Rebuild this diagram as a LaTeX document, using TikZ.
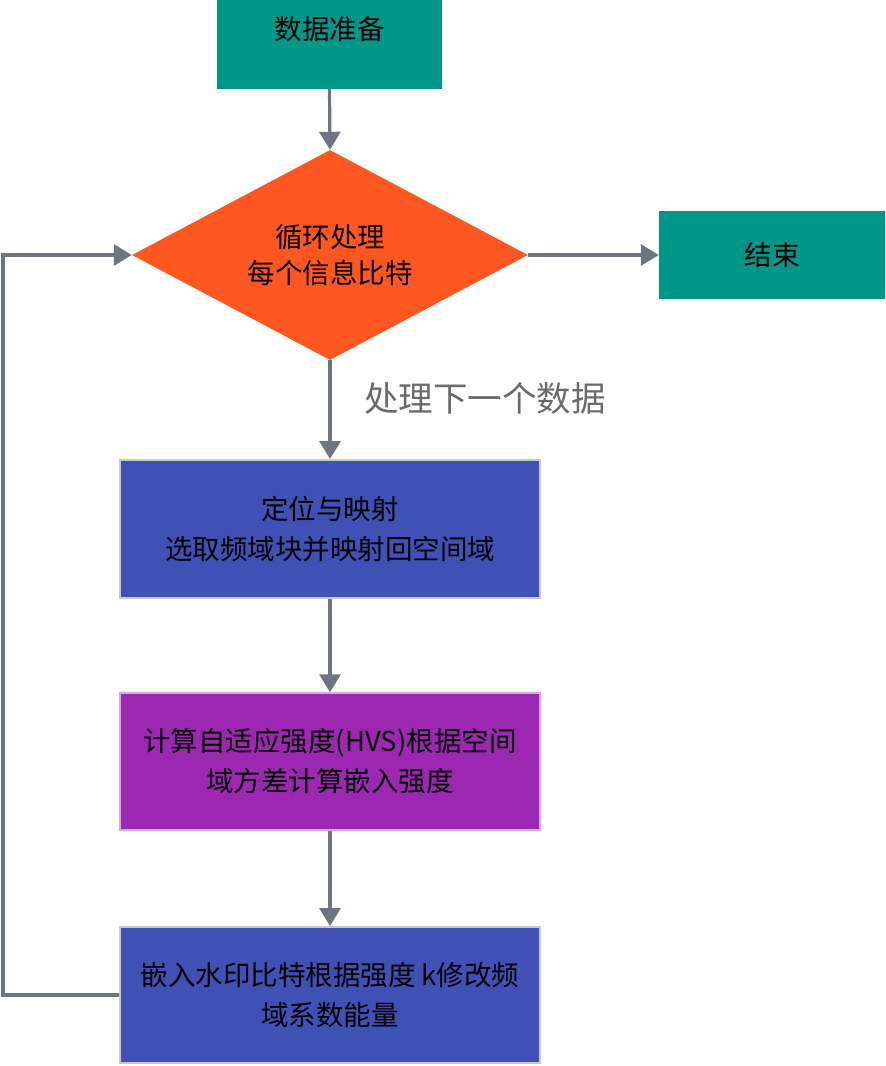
\documentclass[tikz,border=0pt]{standalone}
\usepackage{fontspec}
\setmainfont{Noto Sans CJK SC}
\usetikzlibrary{shapes.geometric,arrows.meta}
\definecolor{tealbox}{HTML}{009688}
\definecolor{orangedia}{HTML}{FF5722}
\definecolor{indigobox}{HTML}{3F51B5}
\definecolor{purplebox}{HTML}{9C27B0}
\definecolor{arrowgray}{HTML}{6E7580}
\definecolor{labelgray}{HTML}{6A6A6A}
\definecolor{bordergray}{HTML}{C8C8C8}
\definecolor{borderpink}{HTML}{D9A6E0}
\begin{document}
\begin{tikzpicture}[x=1pt,y=-1pt,
  box/.style={rectangle, align=center, inner sep=0pt, text=black,
    font=\fontsize{27.5}{40}\selectfont},
  arr/.style={draw=arrowgray, line width=3.2pt, -{Triangle[width=21pt,length=18pt]}}]
\useasboundingbox (0,0) rectangle (886,1066);
\clip (0,0) rectangle (886,1066);
\node[box, fill=tealbox, minimum width=225pt, minimum height=120pt] (start) at (329.5,29) {数据准备};
\node[diamond, aspect=1.886, fill=orangedia, minimum width=396pt, minimum height=210pt, inner sep=0pt,
  align=center, text=black, font=\fontsize{27.5}{36}\selectfont] (loop) at (330,255) {循环处理\\每个信息比特};
\node[box, fill=tealbox, minimum width=226pt, minimum height=88pt] (end) at (772,255) {结束};
\node[box, fill=indigobox, draw=bordergray, line width=2pt, minimum width=420pt, minimum height=138pt] (map) at (330,529) {定位与映射\\选取频域块并映射回空间域};
\node[box, fill=purplebox, draw=borderpink, line width=1.5pt, minimum width=420pt, minimum height=137pt] (hvs) at (330,761.5) {计算自适应强度(HVS)根据空间\\域方差计算嵌入强度};
\node[box, fill=indigobox, draw=bordergray, line width=2pt, minimum width=420pt, minimum height=136pt] (embed) at (330,995) {嵌入水印比特根据强度 k修改频\\域系数能量};
\node[anchor=west, inner sep=0pt, text=labelgray, font=\fontsize{34.5}{38}\selectfont] (lbl) at (364,398) {处理下一个数据};
\coordinate (lp) at (3,995);
\draw[arr] (start.south) -- (loop.north);
\draw[arr] (loop.east) -- (end.west);
\draw[arr] (loop.south) -- (map.north);
\draw[arr] (map.south) -- (hvs.north);
\draw[arr] (hvs.south) -- (embed.north);
\draw[arr] (embed.west) -- (lp) |- (loop.west);
\end{tikzpicture}
\end{document}
